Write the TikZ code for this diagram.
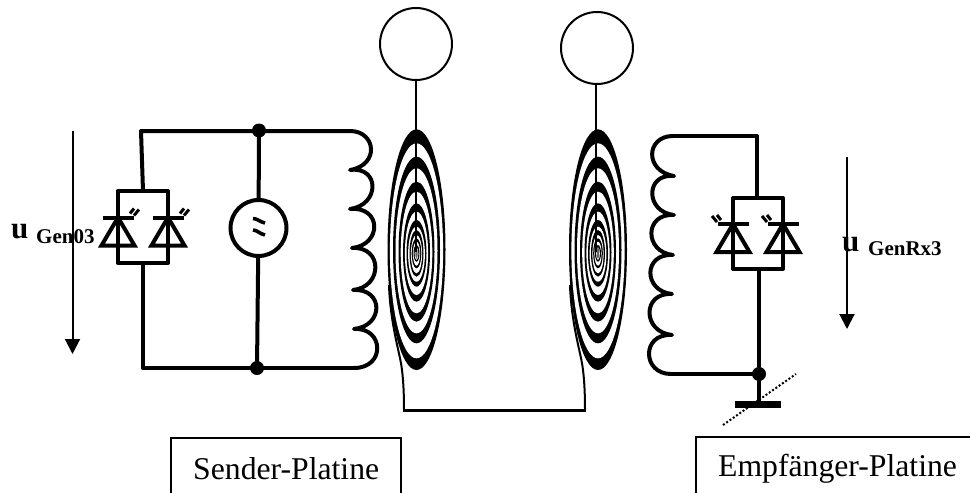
\documentclass[tikz,border=0pt]{standalone}
\usepackage{fontspec}
\setmainfont{Liberation Serif}
\usetikzlibrary{arrows.meta}
\tikzset{
  wire/.style={line width=4pt,line cap=round,line join=round},
  thinwire/.style={line width=2pt},
  dotnode/.style={circle,fill=black,inner sep=0pt,minimum size=14pt},
  antenna/.style={circle,draw,line width=2pt,inner sep=0pt,minimum size=72pt},
  source/.style={circle,draw,line width=4pt,fill=white,inner sep=0pt,minimum size=56pt},
  volt/.style={line width=2pt,-{Triangle[width=15pt,length=15pt]}},
  lbl/.style={anchor=base west,inner sep=0pt,font=\fontsize{31.7}{36}\selectfont},
  ubold/.style={anchor=base west,inner sep=0pt,font=\fontsize{31}{33}\selectfont\bfseries},
  sub/.style={anchor=base west,inner sep=0pt,font=\fontsize{21}{24}\selectfont\bfseries}
}
% diode: centre x, bar y, ray direction (+1 right, -1 left)
\newcommand{\ledsym}[3]{%
  \draw[line width=4pt,line join=miter] (#1-16.5,#2+28) -- (#1,#2) -- (#1+16.5,#2+28) -- cycle;
  \draw[line width=4pt] (#1-15.5,#2) -- (#1+15.5,#2);
  \draw[line width=3pt] (#1+#3*12,#2-4) -- (#1+#3*16,#2-9);
  \draw[line width=3pt] (#1+#3*16,#2-2) -- (#1+#3*21,#2-8);
}
\newcommand{\spiralsym}[1]{%
  \foreach \ta/\ba/\ra/\tb/\bb/\rb in {
    58/780/29/100/745/26.6,
    140/700/23.5/175/670/21,
    215/635/18/245/610/15.8,
    280/575/13.5/305/555/11.6,
    330/530/10/350/515/8.4,
    360/500/7/375/490/5.6,
    385/475/4.8/395/467/3.6,
    405/455/3/412/450/1.8}{%
    \fill[black] (#1,{110+(\ta+\ba)/6}) ellipse [x radius=\ra,y radius={(\ba-\ta)/6}];
    \fill[white] (#1,{110+(\tb+\bb)/6}) ellipse [x radius=\rb,y radius={(\bb-\tb)/6}];
  }%
  \fill[black!60] (#1,253) ellipse [x radius=1.2,y radius=6];
}
\begin{document}
\begin{tikzpicture}[x=1pt,y=-1pt]
\useasboundingbox (0,0) rectangle (970,493);
% spirals
\draw[line width=2pt] (389,285) .. controls (390,315) and (396,340) .. (400,358) .. controls (403,372) and (404,390) .. (404,410);
\draw[line width=2pt] (570,285) .. controls (571,315) and (577,340) .. (581,358) .. controls (584,372) and (585,390) .. (585,410);
\spiralsym{416.5}
\spiralsym{598}
\draw[line width=3pt] (402.5,410) -- (586,410);
% antennas
\node[antenna] (antL) at (416,44) {};
\node[antenna] (antR) at (597,48) {};
\coordinate (stemL) at (415.5,252);
\coordinate (stemR) at (596,252);
\draw[thinwire] (415.5,80) -- (stemL);
\draw[thinwire] (596,84) -- (stemR);
% sender circuit
\node[dotnode] (topdot) at (259,130.5) {};
\node[dotnode] (botdot) at (257,368) {};
\node[source] (src) at (258.5,228) {};
\coordinate (tl) at (141,131);
\coordinate (bl) at (142.5,368);
\coordinate (c0) at (350,131);
\coordinate (c5) at (354,368);
\draw[wire] (c0) -- (tl) -- (143,191);
\draw[wire] (117.5,191) rectangle (168,263);
\draw[wire] (142.5,263) -- (bl) -- (c5);
\draw[wire] (topdot) -- (src);
\draw[wire] (src) -- (botdot);
\ledsym{118}{217.5}{1}
\ledsym{168}{217.5}{1}
\draw[wire] (c0) .. controls (376,131) and (380,165) .. (350,170)
  .. controls (380,166) and (380,205) .. (350,209)
  .. controls (382,206) and (382,245) .. (352,248)
  .. controls (383,246) and (383,287) .. (353,290)
  .. controls (384,288) and (384,326) .. (354,329)
  .. controls (384,327) and (386,368) .. (c5);
% tilde in source
\draw[line width=3.6pt] (253,218.5) .. controls (257,218.5) and (260,222) .. (265,223);
\draw[line width=3.6pt] (253,230) .. controls (257,230) and (260,234) .. (265,235);
% receiver circuit
\node[dotnode] (rxdot) at (759,374) {};
\coordinate (rt) at (757,136);
\coordinate (rc0) at (673,136);
\coordinate (rc5) at (671,374);
\coordinate (gnd) at (759,404);
\draw[wire] (rc0) -- (rt) -- (757,198);
\draw[wire] (733,198) rectangle (783,269);
\draw[wire] (759,269) -- (rxdot);
\draw[wire] (rc5) -- (rxdot);
\draw[wire] (rxdot) -- (gnd);
\draw[line width=7pt] (735,404) -- (781,404);
\ledsym{733}{224}{-1}
\ledsym{783}{224}{-1}
\draw[line width=2pt,dash pattern=on 2pt off 2pt] (723,425) -- (796,374);
\draw[wire] (rc0) .. controls (646,136) and (644,171) .. (674,176)
  .. controls (645,173) and (645,212) .. (674,215)
  .. controls (644,213) and (644,252) .. (673,255)
  .. controls (643,253) and (643,291) .. (672,294)
  .. controls (642,292) and (642,332) .. (672,335)
  .. controls (641,333) and (642,374) .. (rc5);
% voltage arrows
\coordinate (uLa) at (72.5,131);
\coordinate (uLb) at (72.5,354);
\coordinate (uRa) at (847,157);
\coordinate (uRb) at (847,329);
\draw[volt] (uLa) -- (uLb);
\draw[volt] (uRa) -- (uRb);
% labels
\node[ubold] (u1) at (11,238) {u};
\node[sub] (g1) at (36,243) {Gen03};
\node[ubold] (u2) at (842,251) {u};
\node[sub] (g2) at (868,255) {GenRx3};
% boards
\draw[line width=1.8pt] (171,493) -- (171,438) -- (401,438) -- (401,493);
\draw[line width=1.8pt] (696,493) -- (696,437) -- (970,437);
\node[lbl] (send) at (193,479) {Sender-Platine};
\node[lbl] (empf) at (718,476) {Empfänger-Platine};
\end{tikzpicture}
\end{document}
